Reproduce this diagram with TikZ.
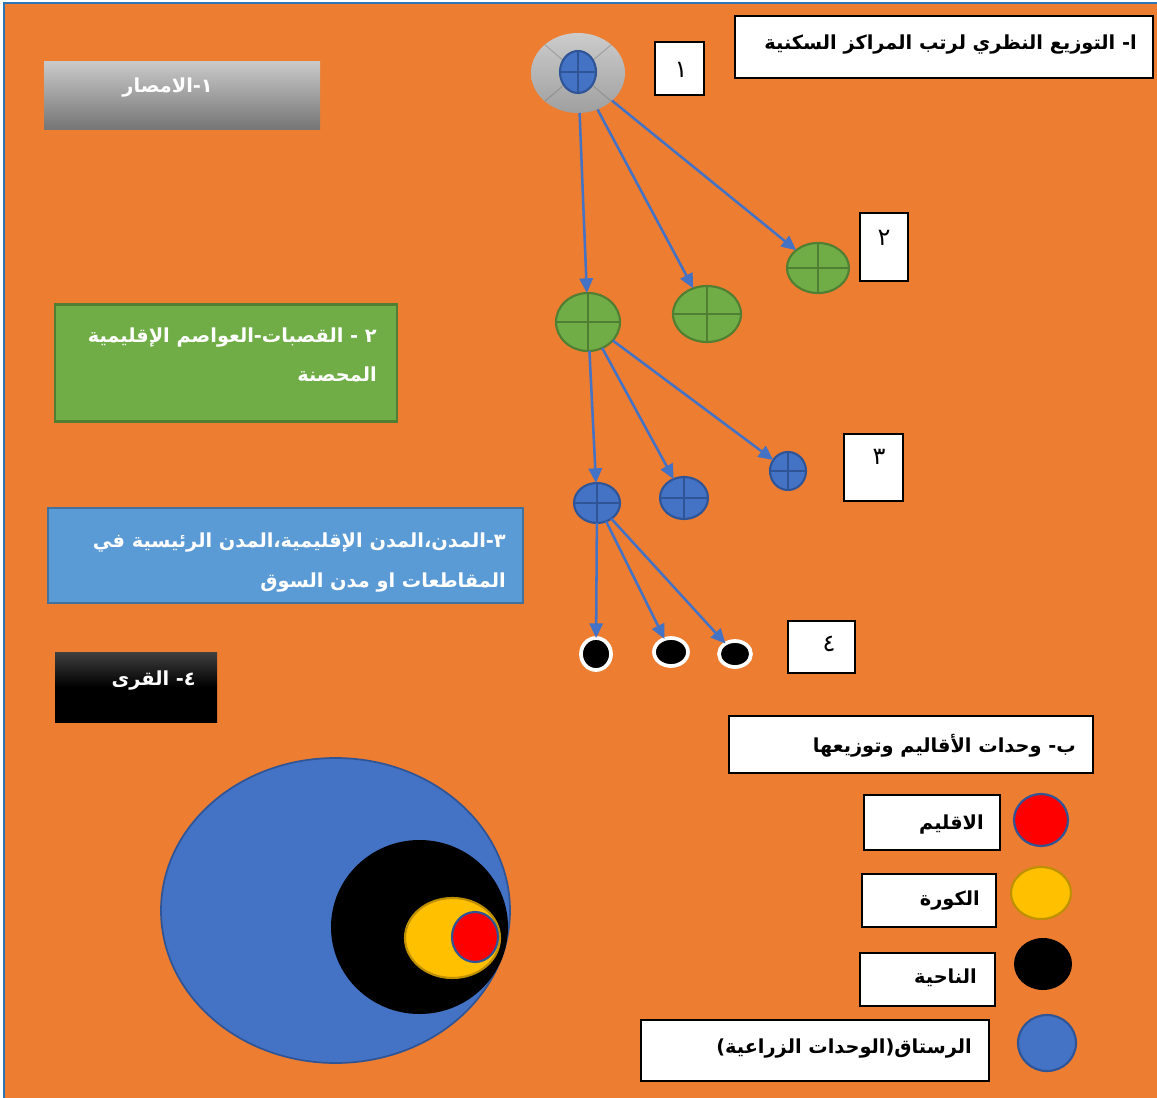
\documentclass[tikz,border=0pt]{standalone}
\usepackage{fontspec}
\newfontfamily\arabicfont[Script=Arabic]{DejaVu Sans}
\TeXXeTstate=1
\usetikzlibrary{arrows.meta,shapes.geometric}
\definecolor{orangebg}{HTML}{ED7D31}
\definecolor{frameblue}{HTML}{2E75B6}
\definecolor{blueA}{HTML}{4472C4}
\definecolor{blueD}{HTML}{2F5597}
\definecolor{greenA}{HTML}{70AD47}
\definecolor{greenD}{HTML}{507E32}
\definecolor{lblue}{HTML}{5B9BD5}
\definecolor{lblueD}{HTML}{41719C}
\definecolor{yellowA}{HTML}{FFC000}
\definecolor{yellowD}{HTML}{BF9000}
\definecolor{redA}{HTML}{FF0000}
\definecolor{grayL}{HTML}{C9C9C9}
\definecolor{grayD}{HTML}{747474}
\tikzset{
  pxsize/.style 2 args={minimum width=#1*0.75pt, minimum height=#2*0.75pt, inner sep=0pt, outer sep=0pt},
  wbox/.style={draw=black, line width=0.9pt, fill=white, rectangle},
  arbold/.style={font=\arabicfont\bfseries\fontsize{14.5}{18}\selectfont, inner sep=0pt, yshift=-2.2pt},
  numtxt/.style={font=\arabicfont\fontsize{18}{20}\selectfont, inner sep=0pt},
  crossed/.style={path picture={\draw[#1, line width=1.6pt]
      (path picture bounding box.north) -- (path picture bounding box.south)
      (path picture bounding box.west) -- (path picture bounding box.east);}},
  greennode/.style={ellipse, fill=greenA, draw=greenD, line width=1.6pt, crossed=greenD},
  bluenode/.style={ellipse, fill=blueA, draw=blueD, line width=1.6pt, crossed=blueD},
  blacknode/.style={ellipse, fill=black, draw=white, line width=2.8pt},
  arr/.style={draw=blueA, line width=1.9pt, -{Triangle[length=11pt,width=10pt]}},
}
\begin{document}
\begin{tikzpicture}[x=0.75pt,y=-0.75pt]
\useasboundingbox (0,0) rectangle (1157,1098);
\fill[white] (0,0) rectangle (1157,1098);
\fill[orangebg] (4,3) rectangle (1157,1098);
\draw[frameblue, line width=1pt] (4,1098) -- (4,3) -- (1157,3);

% title a
\node[wbox, pxsize={418}{62}] (ta) at (944,47) {};
\node[arbold, anchor=east, text=black] (tatxt) at (1137,42) {\beginR ا- التوزيع النظري لرتب المراكز السكنية\endR};

% level boxes
\node[pxsize={276}{68}, top color=grayL, bottom color=grayD] (b1) at (182,96) {};
\node[arbold, anchor=east, text=white] (b1txt) at (213,85) {\beginR ١-الامصار\endR};

\node[pxsize={342}{117}, fill=greenA, draw=greenD, line width=1.6pt] (b2) at (226,363) {};
\node[arbold, anchor=east, text=white, align=right, font=\arabicfont\bfseries\fontsize{14.5}{29}\selectfont] (b2txt) at (377,352)
  {\beginR ٢ - القصبات-العواصم الإقليمية\endR\\ \beginR المحصنة\endR};

\node[pxsize={475}{95}, fill=lblue, draw=lblueD, line width=1.6pt] (b3) at (285.5,555.5) {};
\node[arbold, anchor=east, text=white, align=right, font=\arabicfont\bfseries\fontsize{14.5}{30}\selectfont] (b3txt) at (506,560)
  {\beginR ٣-المدن،المدن الإقليمية،المدن الرئيسية في\endR\\ \beginR المقاطعات او مدن السوق\endR};

\node[pxsize={162}{70}, top color=black!75, bottom color=black, middle color=black] (b4) at (136,687) {};
\node[arbold, anchor=east, text=white] (b4txt) at (196,678) {\beginR ٤- القرى\endR};

% node 1
\node[ellipse, pxsize={94}{80}, top color=grayL!95!white, bottom color=gray!75,
  path picture={\draw[gray!80!black, opacity=0.35, line width=0.8pt]
    (path picture bounding box.center) -- (path picture bounding box.north west)
    (path picture bounding box.center) -- (path picture bounding box.north east)
    (path picture bounding box.center) -- (path picture bounding box.south west)
    (path picture bounding box.center) -- (path picture bounding box.south east);}] (n1) at (578,73) {};
\node[bluenode, pxsize={36}{42}] (n1in) at (578,72) {};
\node[wbox, pxsize={49}{53}] (l1) at (679.5,68.5) {};
\node[numtxt] (l1txt) at (681,70) {١};

% level 2
\node[greennode, pxsize={64}{58}] (g1) at (588,322) {};
\node[greennode, pxsize={68}{56}] (g2) at (707,314) {};
\node[greennode, pxsize={62}{50}] (g3) at (818,268) {};
\node[wbox, pxsize={48}{68}] (l2) at (884,247) {};
\node[numtxt] (l2txt) at (884,238) {٢};

% level 3
\node[bluenode, pxsize={46}{40}] (c1) at (597,503) {};
\node[bluenode, pxsize={48}{42}] (c2) at (684,498) {};
\node[bluenode, pxsize={36}{38}] (c3) at (788,471) {};
\node[wbox, pxsize={59}{67}] (l3) at (873.5,467.5) {};
\node[numtxt] (l3txt) at (879,457) {٣};

% level 4
\node[blacknode, pxsize={30}{32}] (d1) at (596,654) {};
\node[blacknode, pxsize={34}{28}] (d2) at (671,652) {};
\node[blacknode, pxsize={32}{26}] (d3) at (735,654) {};
\node[wbox, pxsize={67}{52}] (l4) at (821.5,647) {};
\node[numtxt] (l4txt) at (829,644) {٤};

% arrows
\draw[arr] (n1) -- (g1);
\draw[arr] (n1) -- (g2);
\draw[arr] (n1) -- (g3);
\draw[arr] (g1) -- (c1);
\draw[arr] (g1) -- (c2);
\draw[arr] (g1) -- (c3);
\draw[arr] (c1) -- (d1);
\draw[arr] (c1) -- (d2);
\draw[arr] (c1) -- (d3);

% section b
\node[wbox, pxsize={364}{57}] (tb) at (911,744.5) {};
\node[arbold, anchor=east, text=black] (tbtxt) at (1076,743) {\beginR ب- وحدات الأقاليم وتوزيعها\endR};

\node[wbox, pxsize={136}{55}] (k1) at (932,822.5) {};
\node[arbold, anchor=east] (k1txt) at (984,822) {\beginR الاقليم\endR};
\node[ellipse, pxsize={54}{52}, fill=redA, draw=blueD, line width=1.6pt] (s1) at (1041,820) {};

\node[wbox, pxsize={134}{53}] (k2) at (929,900.5) {};
\node[arbold, anchor=east] (k2txt) at (980,898) {\beginR الكورة\endR};
\node[ellipse, pxsize={60}{52}, fill=yellowA, draw=yellowD, line width=1.6pt] (s2) at (1041,893) {};

\node[wbox, pxsize={135}{53}] (k3) at (927.5,979.5) {};
\node[arbold, anchor=east] (k3txt) at (977,975) {\beginR الناحية\endR};
\node[ellipse, pxsize={58}{52}, fill=black] (s3) at (1043,964) {};

\node[wbox, pxsize={348}{61}] (k4) at (815,1050.5) {};
\node[arbold, anchor=east] (k4txt) at (972,1046) {\beginR الرستاق(الوحدات الزراعية)\endR};
\node[ellipse, pxsize={58}{56}, fill=blueA, draw=blueD, line width=1.6pt] (s4) at (1047,1043) {};

% nested units
\node[ellipse, pxsize={349}{305}, fill=blueA, draw=blueD, line width=1.3pt] (e1) at (335.5,910.5) {};
\node[ellipse, pxsize={177}{174}, fill=black] (e2) at (419.5,927) {};
\node[ellipse, pxsize={95}{80}, fill=yellowA, draw=yellowD, line width=1.6pt] (e3) at (452.5,938) {};
\node[ellipse, pxsize={46}{50}, fill=redA, draw=blueD, line width=1.6pt] (e4) at (475,937) {};
\end{tikzpicture}
\end{document}
